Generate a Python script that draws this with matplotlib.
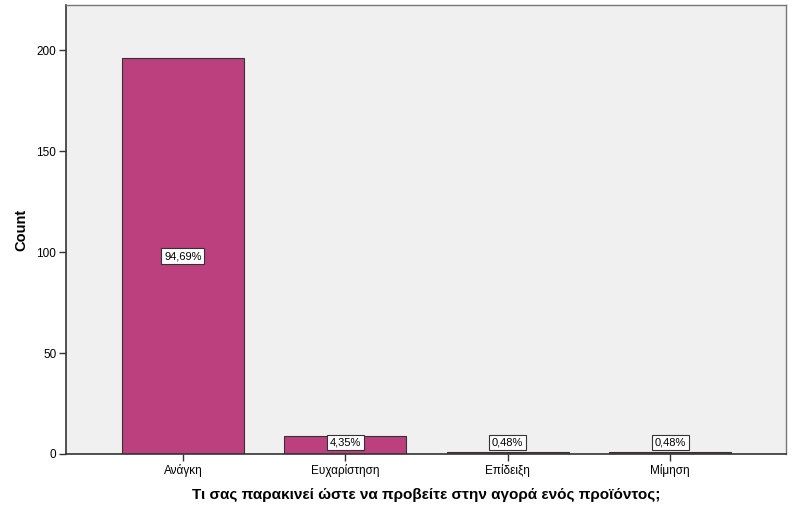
import matplotlib
matplotlib.use('Agg')
import matplotlib.pyplot as plt

# Δεδομένα
categories = ['Ανάγκη', 'Ευχαρίστηση', 'Επίδειξη', 'Μίμηση']
counts = [196, 9, 1, 1]
pct_labels = ['94,69%', '4,35%', '0,48%', '0,48%']
yticks = [0, 50, 100, 150, 200]

plt.rcParams['font.family'] = ['Liberation Sans', 'DejaVu Sans']

fig = plt.figure(figsize=(7.96, 5.13), dpi=100)
ax = fig.add_axes([66 / 796, 59 / 513, 720 / 796, 449 / 513])
ax.set_facecolor('#f0f0f0')

x = range(len(categories))
ax.bar(x, counts, width=0.75, color='#bc3f7e', edgecolor='#333333', linewidth=0.8)

# Ετικέτες ποσοστών σε κουτάκια
for i, (v, lab) in enumerate(zip(counts, pct_labels)):
    ax.text(i, max(v / 2, 5.8), lab, ha='center', va='center', fontsize=8,
            bbox=dict(boxstyle='square,pad=0.25', facecolor='white', edgecolor='#333333', linewidth=0.8))

ax.set_xlim(-0.72, 3.714)
ax.set_ylim(0, 222.3)
ax.set_xticks(list(x))
ax.set_xticklabels(categories, fontsize=8.5)
ax.set_yticks(yticks)
ax.set_yticklabels([str(t) for t in yticks], fontsize=8.5)
ax.tick_params(axis='both', direction='out', length=5, width=1, color='#333333', pad=2)

for s in ['left', 'bottom']:
    ax.spines[s].set_color('#333333')
    ax.spines[s].set_linewidth(1.2)
for s in ['top', 'right']:
    ax.spines[s].set_color('#777777')
    ax.spines[s].set_linewidth(1)

ax.set_ylabel('Count', fontsize=10.5, fontweight='bold', labelpad=6)
ax.set_xlabel('Τι σας παρακινεί ώστε να προβείτε στην αγορά ενός προϊόντος;',
              fontsize=11, fontweight='bold', labelpad=8)

fig.savefig('out.png', dpi=100)
